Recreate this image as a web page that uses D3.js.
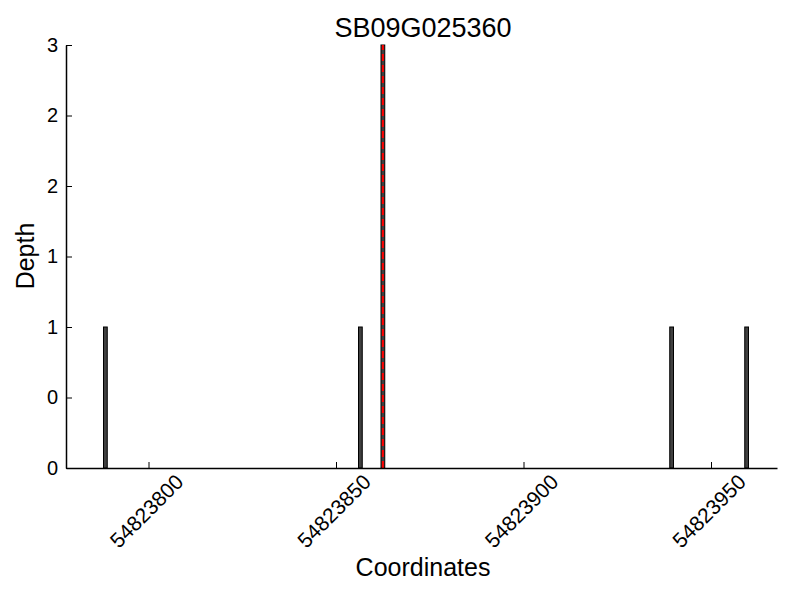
<!DOCTYPE html>
<html>
<head>
<meta charset="utf-8">
<script src="https://cdn.jsdelivr.net/npm/d3@7"></script>
<style>
  body { margin: 0; background: #fff; }
  text { font-family: "Liberation Sans", Arial, sans-serif; fill: #000; }
</style>
</head>
<body>
<svg id="chart" width="800" height="600"></svg>
<script>
// data
var positions = [54823788, 54823856, 54823862, 54823939, 54823959];
var depths = [1, 1, 3, 1, 1];
var markPos = 54823862;
var xTicks = [54823800, 54823850, 54823900, 54823950];
var yTicks = [0, 0.5, 1, 1.5, 2, 2.5, 3];
var yTickLabels = ["0", "0", "1", "1", "2", "2", "3"];
var title = "SB09G025360";

var svg = d3.select('#chart');

// plot box (note: "top" is taken by window.top, so use other names)
var plotLeft = 66, plotRight = 777, plotTop = 45, plotBottom = 468;

var x = d3.scaleLinear().domain([54823778, 54823967.6]).range([plotLeft, plotRight]);
var y = d3.scaleLinear().domain([0, 3]).range([plotBottom, plotTop]);

// bars
svg.selectAll("rect.bar")
  .data(positions)
  .enter().append("rect")
  .attr("class", "bar")
  .attr("x", function(d) { return x(d); })
  .attr("width", function(d) { return x(d + 1) - x(d); })
  .attr("y", function(d, i) { return y(depths[i]); })
  .attr("height", function(d, i) { return plotBottom - y(depths[i]); })
  .attr("fill", "#404040")
  .attr("stroke", "#000")
  .attr("stroke-width", 1);

// red dashed marker
svg.append("line")
  .attr("x1", x(markPos + 0.5)).attr("x2", x(markPos + 0.5))
  .attr("y1", y(0)).attr("y2", y(3))
  .attr("stroke", "red")
  .attr("stroke-width", 2)
  .attr("stroke-dasharray", "7,4");

// x axis, ticks pointing in
var xAxis = svg.append("g")
  .attr("transform", "translate(0," + plotBottom + ")")
  .call(d3.axisBottom(x).tickValues(xTicks).tickSizeInner(-6).tickSizeOuter(0).tickFormat(""));
xAxis.select(".domain").attr("stroke", "#000").attr("stroke-width", 1.5);

xTicks.forEach(function(t) {
  svg.append("text")
    .attr("transform", "translate(" + (x(t) - 2) + ",511) rotate(-45)")
    .attr("text-anchor", "middle")
    .attr("dy", "0.35em")
    .style("font-size", "21px")
    .text(t);
});

// y axis
var yAxis = svg.append("g")
  .attr("transform", "translate(" + plotLeft + ",0)")
  .call(d3.axisLeft(y).tickValues(yTicks).tickSizeInner(-6).tickSizeOuter(0)
    .tickFormat(function(d, i) { return yTickLabels[i]; }));
yAxis.select(".domain").attr("stroke", "#000").attr("stroke-width", 1.5);
yAxis.selectAll("text").style("font-size", "20px").attr("x", -8);

// title and labels
svg.append("text")
  .attr("x", 423).attr("y", 37)
  .attr("text-anchor", "middle")
  .style("font-size", "27px")
  .text(title);

svg.append("text")
  .attr("x", 423).attr("y", 576)
  .attr("text-anchor", "middle")
  .style("font-size", "25px")
  .text("Coordinates");

svg.append("text")
  .attr("transform", "translate(34,256) rotate(-90)")
  .attr("text-anchor", "middle")
  .style("font-size", "25px")
  .text("Depth");
</script>
</body>
</html>
